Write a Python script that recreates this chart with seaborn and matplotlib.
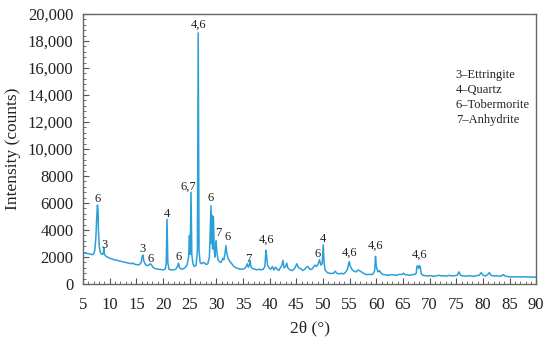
import matplotlib
matplotlib.use("Agg")
import matplotlib.pyplot as plt
from matplotlib.ticker import MultipleLocator, FixedLocator, FixedFormatter
import seaborn as sns

# XRD pattern (2θ in degrees, intensity in counts)
two_theta = [
    5.0, 5.3, 5.6, 5.9, 6.2, 6.5, 6.8, 7.0, 7.2, 7.4, 7.55, 7.7, 7.8, 7.9, 8.05, 8.2, 8.4, 8.6, 8.8, 8.9,
    9.0, 9.3, 9.6, 10.0, 10.4, 10.8, 11.2, 11.6, 12.0, 12.4, 12.8, 13.2, 13.6, 14.0, 14.3, 14.6, 15.0, 15.3,
    15.6, 15.9, 16.1, 16.25, 16.4, 16.7, 17.0, 17.3, 17.6, 17.8, 18.1, 18.5, 19.0, 19.5, 20.0, 20.4, 20.6,
    20.75, 20.9, 21.1, 21.5, 22.0, 22.4, 22.7, 22.9, 23.1, 23.5, 23.9, 24.2, 24.5, 24.8, 24.95, 25.1, 25.25,
    25.4, 25.6, 25.9, 26.2, 26.45, 26.6, 26.75, 26.95, 27.2, 27.5, 27.8, 28.1, 28.4, 28.7, 28.85, 29.0, 29.1,
    29.2, 29.3, 29.45, 29.6, 29.75, 29.95, 30.1, 30.3, 30.6, 30.9, 31.2, 31.4, 31.6, 31.8, 31.95, 32.2, 32.5,
    32.9, 33.3, 33.7, 34.1, 34.5, 34.9, 35.3, 35.6, 35.8, 36.0, 36.2, 36.35, 36.5, 36.8, 37.2, 37.6, 38.0,
    38.4, 38.8, 39.1, 39.3, 39.45, 39.6, 39.9, 40.2, 40.5, 40.8, 41.1, 41.4, 41.7, 42.0, 42.3, 42.5, 42.7,
    43.0, 43.2, 43.4, 43.8, 44.2, 44.6, 44.9, 45.1, 45.4, 45.8, 46.2, 46.6, 46.9, 47.2, 47.5, 47.9, 48.2,
    48.5, 48.8, 49.1, 49.35, 49.6, 49.85, 50.05, 50.2, 50.4, 50.8, 51.2, 51.6, 52.0, 52.3, 52.6, 53.0, 53.4,
    53.8, 54.2, 54.6, 54.8, 54.95, 55.1, 55.4, 55.8, 56.2, 56.6, 57.0, 57.4, 57.8, 58.2, 58.6, 59.0, 59.4,
    59.7, 59.85, 60.0, 60.3, 60.6, 60.9, 61.3, 61.8, 62.3, 62.8, 63.3, 63.8, 64.3, 64.7, 65.1, 65.4, 65.8,
    66.3, 66.8, 67.2, 67.5, 67.6, 67.8, 67.95, 68.1, 68.25, 68.4, 68.7, 69.2, 69.7, 70.2, 70.7, 71.2, 71.7,
    72.2, 72.7, 73.2, 73.7, 74.2, 74.7, 75.2, 75.5, 75.8, 76.3, 76.8, 77.3, 77.8, 78.3, 78.8, 79.3, 79.7,
    80.0, 80.5, 80.9, 81.2, 81.5, 82.0, 82.5, 83.0, 83.5, 83.8, 84.2, 84.7, 85.2, 85.7, 86.2, 86.7, 87.2,
    87.7, 88.2, 88.7, 89.2, 89.6, 90.0,
]
counts = [
    2350, 2300, 2280, 2250, 2230, 2200, 2180, 2250, 2500, 3400, 4800, 5850, 5500, 3800, 2800, 2400, 2250, 2200, 2300, 2700,
    2200, 2050, 2000, 1900, 1880, 1800, 1780, 1720, 1700, 1650, 1620, 1580, 1550, 1500, 1560, 1480, 1450, 1420,
    1450, 1600, 2050, 2150, 1700, 1450, 1350, 1400, 1500, 1450, 1250, 1150, 1100, 1080, 1050, 1100, 1500,
    4800, 1600, 1100, 1050, 1050, 1100, 1300, 1550, 1200, 1100, 1150, 1250, 1400, 2000, 3600, 2200, 6800,
    2200, 1500, 1300, 1400, 2500, 18600, 2500, 1600, 1500, 1600, 1550, 1450, 1500, 2000, 4000, 5800, 3000,
    5100, 2600, 5000, 2500, 2000, 3200, 2400, 1800, 1650, 1600, 1900, 1800, 2200, 2850, 2300, 1900, 1700,
    1500, 1300, 1200, 1150, 1100, 1100, 1150, 1300, 1500, 1250, 1400, 1750, 1250, 1150, 1100, 1050, 1100,
    1050, 1100, 1300, 2500, 2000, 1400, 1200, 1100, 1300, 1050, 1250, 1100, 1000, 1200, 1400, 1750, 1200,
    1300, 1550, 1200, 1050, 1000, 1100, 1350, 1500, 1200, 1150, 1000, 1100, 1250, 1300, 1100, 1100, 1250,
    1400, 1300, 1500, 1800, 1400, 1500, 2900, 1600, 1050, 850, 800, 780, 800, 950, 800, 750, 800,
    750, 850, 1100, 1500, 1650, 1350, 1100, 950, 900, 1050, 950, 850, 750, 700, 720, 700, 750,
    1000, 2050, 1300, 900, 1000, 800, 700, 680, 650, 700, 680, 650, 720, 700, 800, 700, 680,
    650, 700, 720, 800, 1300, 1350, 1150, 1350, 1300, 800, 650, 620, 600, 620, 580, 600, 650,
    600, 620, 580, 650, 600, 620, 650, 900, 650, 600, 580, 620, 600, 580, 620, 650, 850,
    650, 600, 700, 850, 650, 600, 620, 580, 600, 700, 600, 550, 530, 520, 540, 530, 520,
    540, 520, 530, 510, 520, 500,
]

# peak annotations: label, 2θ, height of text
peak_labels = ["6", "3", "3", "6", "4", "6", "6,7", "4,6", "6", "7", "6", "7", "4,6",
               "6", "4", "4,6", "4,6", "4,6"]
peak_x = [7.7, 9.1, 16.1, 17.7, 20.7, 23.0, 24.8, 26.6, 29.0, 30.3, 32.1, 36.0, 39.5,
          49.0, 50.0, 54.9, 59.85, 68.2]
peak_y = [6300, 2890, 2590, 1870, 5180, 2000, 7200, 19180, 6370, 3780, 3480, 1850, 3260,
          2220, 3330, 2300, 2810, 2150]

phases = ["3\u2013Ettringite", "4\u2013Quartz", "6\u2013Tobermorite", "7\u2013Anhydrite"]

y_ticks = [0, 2000, 4000, 6000, 8000, 10000, 12000, 14000, 16000, 18000, 20000]
y_tick_labels = ["0", "2000", "4000", "6000", "8000", "10,000", "12,000", "14,000",
                 "16,000", "18,000", "20,000"]
x_ticks = list(range(5, 95, 5))

sns.set_theme(style="ticks")
plt.rcParams["font.family"] = ["Liberation Serif", "DejaVu Serif"]

fig = plt.figure(figsize=(5.5, 3.41), dpi=100)
ax = fig.add_axes([0.151, 0.167, 0.824, 0.792])

sns.lineplot(x=two_theta, y=counts, ax=ax, color="#2b9fd8", linewidth=1.1,
             estimator=None, sort=False)

for lab, px, py in zip(peak_labels, peak_x, peak_y):
    ax.text(px, py, lab, ha="center", va="center", fontsize=9, color="#222222")

for i, name in enumerate(phases):
    ax.text(74.9, 15480 - i * 1110, name, ha="left", va="center", fontsize=9,
            color="#222222")

ax.set_xlim(5, 90)
ax.set_ylim(0, 20000)
ax.xaxis.set_major_locator(FixedLocator(x_ticks))
ax.xaxis.set_minor_locator(MultipleLocator(1))
ax.yaxis.set_major_locator(FixedLocator(y_ticks))
ax.yaxis.set_major_formatter(FixedFormatter(y_tick_labels))
ax.yaxis.set_minor_locator(MultipleLocator(400))

ax.tick_params(which="both", direction="in", top=False, right=False,
               labelsize=12, colors="#222222")
ax.tick_params(axis="y", which="major", pad=7)
ax.tick_params(axis="x", which="major", pad=9)
ax.tick_params(which="major", length=4, width=0.8, color="#555555")
ax.tick_params(which="minor", length=2, width=0.6, color="#555555")

for s in ax.spines.values():
    s.set_color("#666666")
    s.set_linewidth(1.0)

ax.set_xlabel("2\u03b8 (\u00b0)", fontsize=12.5, color="#222222", labelpad=6)
ax.set_ylabel("Intensity (counts)", fontsize=12.5, color="#222222", labelpad=5)

fig.savefig("out.png", dpi=100, facecolor="white")
